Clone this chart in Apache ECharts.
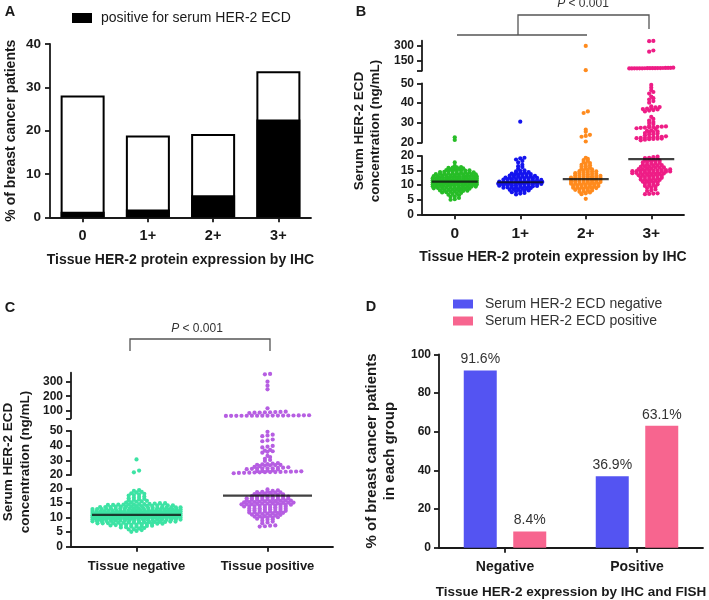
<!DOCTYPE html>
<html>
<head>
<meta charset="utf-8">
<title>Serum HER-2 ECD</title>
<script src="https://cdn.jsdelivr.net/npm/echarts@6/dist/echarts.min.js"></script>
<style>
html, body { margin: 0; padding: 0; background: #fff; }
#main { width: 709px; height: 600px; }
</style>
</head>
<body>
<div id="main"></div>
<script>
// ---------- data ----------
var ihcCats = ['0', '1+', '2+', '3+'];
var tissueCats = ['Tissue negative', 'Tissue positive'];
var fishCats = ['Negative', 'Positive'];

// A: % of patients per IHC score (whole bar) and serum positive part
var totalPct = [28.1, 18.9, 19.2, 33.7];
var serumPosPct = [1.3, 1.8, 5.1, 22.6];

// B: serum ECD (ng/mL) by IHC score
var ihc0 = [
  5.0, 5.2, 5.6, 6.0, 6.1, 6.5, 6.7, 7.0, 7.1, 7.3, 7.5, 7.6, 7.7, 7.9,
  8.0, 8.0, 8.1, 8.2, 8.3, 8.4, 8.5, 8.5, 8.6, 8.7, 8.8,
  8.9, 9.0, 9.0, 9.1, 9.1, 9.2, 9.3, 9.3, 9.4, 9.5, 9.5, 9.6, 9.6, 9.7, 9.7, 9.8, 9.9,
  9.9, 10.0, 10.0, 10.1, 10.1, 10.2, 10.2, 10.3, 10.3, 10.4, 10.4,
  10.5, 10.5, 10.5, 10.6, 10.6, 10.7, 10.7, 10.8, 10.8, 10.9, 10.9, 10.9,
  11.0, 11.0, 11.0, 11.1, 11.1, 11.2, 11.2, 11.3, 11.3, 11.4, 11.4, 11.4,
  11.5, 11.5, 11.6, 11.6, 11.7, 11.7, 11.8, 11.8, 11.9, 11.9, 12.0,
  12.0, 12.1, 12.1, 12.2, 12.2, 12.3, 12.3, 12.4, 12.4, 12.5, 12.5,
  12.6, 12.6, 12.7, 12.7, 12.8, 12.8, 12.9, 12.9, 13.0, 13.0,
  13.1, 13.1, 13.2, 13.3, 13.3, 13.4, 13.5, 13.5, 13.6,
  13.7, 13.7, 13.8, 13.9, 13.9, 14.0, 14.0, 14.1,
  14.2, 14.3, 14.4, 14.4, 14.5, 14.6, 14.7,
  14.8, 14.9, 15.0, 15.0, 15.1,
  15.2, 15.4, 15.5, 15.6, 15.8, 15.9, 16.0, 16.1, 16.2, 16.6, 17.8, 21.4, 22.7
];
var ihc1 = [
  6.8, 7.1, 7.3, 7.6, 7.8, 7.9, 8.1, 8.2, 8.4, 8.5, 8.6, 8.8,
  8.9, 9.0, 9.1, 9.2, 9.2, 9.3, 9.4, 9.5, 9.5, 9.6, 9.7, 9.8, 9.9,
  9.9, 10.0, 10.0, 10.1, 10.2, 10.2, 10.3, 10.4, 10.4,
  10.5, 10.5, 10.6, 10.6, 10.7, 10.7, 10.8, 10.8, 10.9, 10.9,
  11.0, 11.0, 11.1, 11.1, 11.2, 11.2, 11.3, 11.4, 11.4, 11.5,
  11.5, 11.6, 11.7, 11.7, 11.8, 11.9, 12.0, 12.0,
  12.1, 12.2, 12.3, 12.3, 12.4, 12.5, 12.6,
  12.7, 12.8, 12.9, 13.0, 13.0, 13.1,
  13.2, 13.3, 13.4, 13.5, 13.6, 13.7, 13.8, 14.0, 14.1,
  14.2, 14.4, 14.5, 14.7, 14.9, 15.1,
  15.6, 16.2, 16.5, 17.0, 17.8, 18.3, 18.8, 19.2, 19.4, 30.6
];
var ihc2 = [
  5.3, 6.9, 7.2, 7.5, 7.7, 7.9, 8.1, 8.2, 8.4, 8.5, 8.7, 8.8,
  8.9, 9.0, 9.1, 9.2, 9.3, 9.4, 9.5, 9.6, 9.7, 9.8,
  9.9, 10.0, 10.1, 10.2, 10.3, 10.4, 10.5, 10.6, 10.7, 10.8, 10.9, 10.9,
  11.0, 11.1, 11.2, 11.3, 11.4, 11.4, 11.5, 11.6, 11.7, 11.8, 11.9, 12.0,
  12.1, 12.2, 12.3, 12.4, 12.4, 12.5, 12.6, 12.7, 12.8, 12.9, 13.0, 13.0,
  13.1, 13.2, 13.4, 13.5, 13.6, 13.7, 13.8, 13.9, 14.1,
  14.2, 14.3, 14.5, 14.6, 14.7, 14.8, 15.0,
  15.2, 15.4, 15.6, 15.8, 16.0, 16.3, 16.5, 16.8, 17.0, 17.3, 17.6, 17.9, 18.3, 18.6, 19.0, 19.4,
  20.6, 23.0, 23.4, 24.0, 25.5, 26.6, 35.0, 35.8, 55, 298
];
var ihc3 = [
  6.9, 7.0, 7.1, 7.2, 8.0, 8.2, 8.5, 9.0, 9.2, 9.4, 9.7,
  10.0, 10.1, 10.3, 10.5, 10.7, 10.9, 11.0, 11.2, 11.3, 11.5, 11.6, 11.8, 11.9,
  12.0, 12.1, 12.3, 12.4, 12.5, 12.7, 12.8, 12.9,
  13.0, 13.1, 13.2, 13.4, 13.5, 13.6, 13.7, 13.8, 13.9,
  14.0, 14.1, 14.2, 14.2, 14.3, 14.4, 14.4, 14.5, 14.6, 14.6, 14.7, 14.8, 14.8, 14.9, 14.9, 15.0, 15.0,
  15.1, 15.2, 15.2, 15.4, 15.5, 15.5, 15.7, 15.8, 16.0, 16.0, 16.1, 16.3, 16.4, 16.4, 16.6,
  16.7, 16.9, 17.0, 17.1, 17.3, 17.5, 17.6, 17.8, 17.9, 18.1, 18.2, 18.4, 18.5, 18.7,
  18.9, 19.1, 19.3, 19.4, 19.6, 19.8,
  21.2, 21.5, 21.8, 21.9, 22.0, 22.1, 22.3, 22.4, 22.5, 22.6, 22.7, 22.9, 23.0, 23.2,
  23.8, 24.1, 24.3, 24.6, 24.9, 25.2, 25.4, 25.7, 26.0, 26.3,
  27.0, 27.3, 27.5, 27.6, 27.8, 27.9, 28.0, 28.1, 28.2, 28.5,
  29.5, 30.0, 30.4, 31.2, 32.0, 33.0,
  35.8, 36.2, 36.5, 36.8, 37.0, 37.2, 37.5, 37.8, 38.0, 38.4,
  40.2, 41.0, 41.8, 42.5, 43.3, 44.8, 45.6, 46.5, 47.8, 49.2,
  72.5, 73.0, 73.4, 73.8, 74.0, 74.2, 74.5, 74.8, 75.0, 75.3, 75.6, 76.0, 76.4, 76.9, 77.5, 78.2, 79.0, 80.5,
  240, 252, 345, 348
];
var medianB = [11.2, 11.0, 12.1, 18.9];

// C: serum ECD (ng/mL) by tissue status
var tissueNeg = [
  5.1, 5.4, 5.7, 5.9, 6.0, 6.2, 6.4, 6.6, 6.7, 6.9, 6.9,
  7.0, 7.1, 7.2, 7.3, 7.4, 7.4, 7.5, 7.5, 7.6, 7.7, 7.8, 7.8, 7.9, 7.9,
  8.0, 8.0, 8.1, 8.1, 8.2, 8.2, 8.3, 8.3, 8.4, 8.4, 8.4,
  8.5, 8.5, 8.5, 8.6, 8.6, 8.7, 8.7, 8.7, 8.8, 8.8, 8.9, 8.9, 8.9,
  9.0, 9.0, 9.0, 9.1, 9.1, 9.1, 9.2, 9.2, 9.2, 9.3, 9.3, 9.3, 9.4, 9.4, 9.4, 9.4,
  9.5, 9.5, 9.5, 9.5, 9.6, 9.6, 9.6, 9.7, 9.7, 9.7, 9.8, 9.8, 9.8, 9.8, 9.9, 9.9, 9.9, 9.9,
  10.0, 10.0, 10.0, 10.0, 10.1, 10.1, 10.1, 10.1, 10.2, 10.2, 10.2, 10.2, 10.3, 10.3, 10.3, 10.3, 10.4, 10.4, 10.4, 10.4,
  10.5, 10.5, 10.5, 10.5, 10.5, 10.6, 10.6, 10.6, 10.6, 10.7, 10.7, 10.7, 10.7, 10.8, 10.8, 10.8, 10.8, 10.9, 10.9, 10.9, 10.9,
  11.0, 11.0, 11.0, 11.0, 11.0, 11.1, 11.1, 11.1, 11.1, 11.2, 11.2, 11.2, 11.2, 11.3, 11.3, 11.3, 11.3, 11.4, 11.4, 11.4, 11.4,
  11.5, 11.5, 11.5, 11.5, 11.6, 11.6, 11.6, 11.6, 11.7, 11.7, 11.7, 11.7, 11.8, 11.8, 11.8, 11.8, 11.9, 11.9, 11.9, 11.9,
  12.0, 12.0, 12.0, 12.0, 12.1, 12.1, 12.1, 12.1, 12.2, 12.2, 12.2, 12.2, 12.3, 12.3, 12.3, 12.4, 12.4, 12.4,
  12.5, 12.5, 12.5, 12.5, 12.6, 12.6, 12.6, 12.7, 12.7, 12.7, 12.8, 12.8, 12.8, 12.9, 12.9, 12.9,
  13.0, 13.0, 13.0, 13.1, 13.1, 13.1, 13.2, 13.2, 13.2, 13.3, 13.3, 13.3, 13.4, 13.4,
  13.5, 13.5, 13.5, 13.6, 13.6, 13.6, 13.7, 13.7, 13.8, 13.8, 13.9, 13.9,
  14.0, 14.0, 14.1, 14.1, 14.2, 14.2, 14.3, 14.3, 14.4, 14.4,
  14.5, 14.5, 14.6, 14.6, 14.7, 14.8, 14.9, 14.9,
  15.1, 15.2, 15.4, 15.5, 15.7, 15.9, 16.0, 16.2, 16.4, 16.6, 16.8, 17.0, 17.2, 17.5, 17.7, 17.9, 18.1, 18.3, 18.6, 18.8, 19.1, 19.4,
  21.8, 23.0, 30.6
];
var tissuePos = [
  6.9, 7.0, 7.2, 7.3, 8.0, 8.3, 8.6, 8.9, 9.2, 9.4, 9.6, 9.8, 9.9,
  10.0, 10.1, 10.3, 10.4, 10.5, 10.6, 10.7, 10.9, 11.0, 11.1, 11.2, 11.3, 11.4, 11.5, 11.6, 11.7, 11.8, 11.9,
  12.0, 12.0, 12.1, 12.2, 12.3, 12.4, 12.5, 12.6, 12.7, 12.8, 12.9, 12.9,
  13.0, 13.1, 13.1, 13.2, 13.3, 13.4, 13.5, 13.6, 13.7, 13.8, 13.9, 13.9,
  14.0, 14.0, 14.1, 14.2, 14.3, 14.3, 14.4, 14.5, 14.6, 14.6, 14.7, 14.8, 14.8, 14.9, 14.9,
  15.0, 15.1, 15.1, 15.2, 15.3, 15.3, 15.4, 15.5, 15.5, 15.6, 15.7, 15.8, 15.8, 15.9, 16.0, 16.0, 16.1,
  16.2, 16.3, 16.3, 16.4, 16.5, 16.6, 16.6, 16.7, 16.8, 16.9, 16.9, 17.0, 17.1, 17.2, 17.3, 17.4,
  17.5, 17.6, 17.7, 17.8, 17.9, 18.0, 18.1, 18.2, 18.4, 18.5, 18.6, 18.7, 18.8, 18.9, 19.1, 19.3, 19.6,
  21.2, 21.4, 21.5, 21.6, 21.7, 21.8, 21.9, 22.0, 22.0, 22.1, 22.2, 22.3, 22.4, 22.5, 22.6, 22.7, 22.9, 23.1,
  23.8, 24.0, 24.2, 24.3, 24.4, 24.5, 24.6, 24.8, 25.0, 25.3, 25.6,
  26.0, 26.4, 26.6, 26.8, 26.9, 27.0, 27.2, 27.4, 27.7, 28.1,
  29.6, 30.3, 31.0, 32.2, 33.0, 35.2, 35.8, 36.2, 36.6, 37.1, 38.8, 39.3, 39.8,
  43.0, 43.6, 44.2, 46.5, 47.0, 47.5, 49.5,
  66.0, 66.5, 67.0, 67.2, 67.4, 67.6, 67.8, 68.0, 68.1, 68.3, 68.5, 68.7, 68.9, 69.2, 69.5, 70.0, 70.8,
  86.0, 88.0, 89.0, 90.0, 91.0, 92.0, 93.5, 95.0,
  118, 247, 272, 299, 349, 352
];
var medianC = [10.9, 17.5];

// D: % of patients in each tissue group
var serumNegD = [91.6, 36.9];
var serumPosD = [8.4, 63.1];

// ---------- layout ----------
var INK = '#1a1a1a';
var FONT = 'Liberation Sans';

// y segments of the broken axes (bottom, middle, top)
var segB = [
  {min: 0, max: 20, top: 156, height: 58.3},
  {min: 20, max: 50, top: 83.3, height: 59.4},
  {min: 50, max: 350, top: 40.7, height: 30}
];
var segC = [
  {min: 0, max: 20, top: 488.3, height: 58.4},
  {min: 20, max: 50, top: 431, height: 44},
  {min: 50, max: 360, top: 372.7, height: 45.6}
];
var gB = {left: 422, width: 262};
var gC = {left: 71, width: 262};

function segOf(v) { return v <= 20 ? 0 : (v <= 50 ? 1 : 2); }

// prism-like scatter: values close in height share a row, row spread around the category
function swarm(vals, idx, segs, bandPx, maxW, step, rowPx) {
  var s = vals.slice().sort(function (a, b) { return a - b; });
  var out = [[], [], []];
  var i = 0;
  while (i < s.length) {
    var k = segOf(s[i]);
    var g = segs[k];
    var ppu = g.height / (g.max - g.min);
    var row = [s[i]];
    var j = i + 1;
    while (j < s.length && segOf(s[j]) === k && (s[j] - s[i]) * ppu < rowPx) {
      row.push(s[j]);
      j++;
    }
    var gap = row.length > 1 ? Math.min(step, maxW / (row.length - 1)) : 0;
    for (var m = 0; m < row.length; m++) {
      var dx = (m - (row.length - 1) / 2) * gap;
      out[k].push([idx + dx / bandPx, row[m]]);
    }
    i = j;
  }
  return out;
}

function styledAxis(o, labelSize) {
  var a = {
    axisLine: {show: true, onZero: false, lineStyle: {color: INK, width: 1.8}},
    axisTick: {show: true, length: 5, lineStyle: {color: INK, width: 1.8}},
    axisLabel: {color: INK, fontSize: labelSize, fontWeight: 'bold', fontFamily: FONT, margin: 8},
    splitLine: {show: false},
    nameTextStyle: {color: INK, fontSize: 14, fontWeight: 'bold', fontFamily: FONT},
    nameMoveOverlap: false
  };
  for (var k in o) {
    if (o[k] && typeof o[k] === 'object' && !Array.isArray(o[k]) && a[k]) {
      for (var kk in o[k]) a[k][kk] = o[k][kk];
    } else {
      a[k] = o[k];
    }
  }
  return a;
}

var grids = [
  {left: 50, top: 44, width: 261, height: 173.3}
];
segB.forEach(function (s) { grids.push({left: gB.left, width: gB.width, top: s.top, height: s.height}); });
segC.forEach(function (s) { grids.push({left: gC.left, width: gC.width, top: s.top, height: s.height}); });
grids.push({left: 439, top: 354.3, width: 264, height: 193.4});
grids.forEach(function (g) { g.outerBoundsMode = 'none'; });

var xAxes = [
  styledAxis({
    gridIndex: 0, type: 'category', data: ihcCats,
    axisTick: {alignWithLabel: true},
    axisLabel: {fontSize: 14.5, margin: 11},
    name: 'Tissue HER-2 protein expression by IHC', nameLocation: 'middle', nameGap: 36
  }, 14.5),
  styledAxis({
    gridIndex: 1, type: 'value', min: -0.5, max: 3.5,
    axisTick: {customValues: [0, 1, 2, 3]},
    axisLabel: {customValues: [0, 1, 2, 3], margin: 11, formatter: function (v) { return ihcCats[v]; }},
    name: 'Tissue HER-2 protein expression by IHC', nameLocation: 'middle', nameGap: 36
  }, 15.5),
  {gridIndex: 2, type: 'value', min: -0.5, max: 3.5, show: false},
  {gridIndex: 3, type: 'value', min: -0.5, max: 3.5, show: false},
  styledAxis({
    gridIndex: 4, type: 'value', min: -0.5, max: 1.5,
    axisTick: {customValues: [0, 1]},
    axisLabel: {customValues: [0, 1], margin: 13, formatter: function (v) { return tissueCats[v]; }}
  }, 13),
  {gridIndex: 5, type: 'value', min: -0.5, max: 1.5, show: false},
  {gridIndex: 6, type: 'value', min: -0.5, max: 1.5, show: false},
  styledAxis({
    gridIndex: 7, type: 'category', data: fishCats,
    axisTick: {alignWithLabel: true},
    axisLabel: {margin: 12},
    name: 'Tissue HER-2 expression by IHC and FISH', nameLocation: 'middle', nameGap: 38,
    nameTextStyle: {fontSize: 13.5}
  }, 14)
];

var yAxes = [
  styledAxis({
    gridIndex: 0, type: 'value', min: 0, max: 40, interval: 10,
    axisLabel: {margin: 9},
    name: '% of breast cancer patients', nameLocation: 'middle', nameGap: 32
  }, 13.5),
  styledAxis({gridIndex: 1, type: 'value', min: 0, max: 20, interval: 5}, 12),
  styledAxis({gridIndex: 2, type: 'value', min: 20, max: 50, interval: 10}, 12),
  styledAxis({
    gridIndex: 3, type: 'value', min: 50, max: 350,
    axisTick: {customValues: [50, 150, 300]},
    axisLabel: {customValues: [150, 300]}
  }, 12),
  styledAxis({gridIndex: 4, type: 'value', min: 0, max: 20, interval: 5}, 12),
  styledAxis({gridIndex: 5, type: 'value', min: 20, max: 50, interval: 10}, 12),
  styledAxis({
    gridIndex: 6, type: 'value', min: 50, max: 360,
    axisTick: {customValues: [50, 100, 200, 300]},
    axisLabel: {customValues: [100, 200, 300]}
  }, 12),
  styledAxis({
    gridIndex: 7, type: 'value', min: 0, max: 100, interval: 20,
    name: '% of breast cancer patients\nin each group', nameLocation: 'middle', nameGap: 40,
    nameTextStyle: {fontSize: 15, lineHeight: 18}
  }, 12)
];

// ---------- series ----------
var series = [];

//A 柱状图
series.push({
  name: 'all patients', type: 'bar', xAxisIndex: 0, yAxisIndex: 0,
  data: totalPct, barWidth: 44, barGap: '-100%',
  itemStyle: {color: '#fff', borderColor: '#000', borderWidth: 2}, silent: true
});
series.push({
  name: 'positive for serum HER-2 ECD', type: 'bar', xAxisIndex: 0, yAxisIndex: 0,
  data: serumPosPct, barWidth: 44, barGap: '-100%',
  itemStyle: {color: '#000'}, silent: true
});

//B 散点
var colorsB = ['#27bd27', '#1414ee', '#ff8b1e', '#ee1d86'];
[ihc0, ihc1, ihc2, ihc3].forEach(function (vals, i) {
  var parts = swarm(vals, i, segB, gB.width / 4, 44, 4.2, 2);
  parts.forEach(function (pts, k) {
    series.push({
      type: 'scatter', xAxisIndex: 1 + k, yAxisIndex: 1 + k, data: pts,
      symbolSize: 4.2, itemStyle: {color: colorsB[i], opacity: 1}, silent: true, clip: false
    });
  });
});
series.push({
  type: 'scatter', xAxisIndex: 1, yAxisIndex: 1, z: 5,
  data: medianB.map(function (m, i) { return [i, m]; }),
  symbol: 'rect', symbolSize: [46, 2.2], itemStyle: {color: '#111'}, silent: true
});

//C 散点
var colorsC = ['#3de3a4', '#b65ee2'];
[tissueNeg, tissuePos].forEach(function (vals, i) {
  var parts = swarm(vals, i, segC, gC.width / 2, 88, 5.2, 2);
  parts.forEach(function (pts, k) {
    series.push({
      type: 'scatter', xAxisIndex: 4 + k, yAxisIndex: 4 + k, data: pts,
      symbolSize: 4.2, itemStyle: {color: colorsC[i], opacity: 1}, silent: true, clip: false
    });
  });
});
series.push({
  type: 'scatter', xAxisIndex: 4, yAxisIndex: 4, z: 5,
  data: medianC.map(function (m, i) { return [i, m]; }),
  symbol: 'rect', symbolSize: [89, 2.2], itemStyle: {color: '#111'}, silent: true
});

//D 柱状图
var barLabel = {show: true, position: 'top', distance: 4, formatter: '{c}%', fontSize: 14, color: '#333', fontFamily: FONT};
series.push({
  name: 'Serum HER-2 ECD negative', type: 'bar', xAxisIndex: 7, yAxisIndex: 7,
  data: serumNegD, barWidth: 33, barGap: '50%', itemStyle: {color: '#5454f2'}, label: barLabel, silent: true
});
series.push({
  name: 'Serum HER-2 ECD positive', type: 'bar', xAxisIndex: 7, yAxisIndex: 7,
  data: serumPosD, barWidth: 33, barGap: '50%', itemStyle: {color: '#f7658f'}, label: barLabel, silent: true
});

// ---------- texts / brackets ----------
function txt(s, x, y, size, weight, extra) {
  var st = {
    text: s, fontSize: size, fontWeight: weight, fontFamily: FONT, fill: INK,
    align: 'center', verticalAlign: 'middle', textAlign: 'center', textVerticalAlign: 'middle'
  };
  for (var k in extra) st[k] = extra[k];
  return {type: 'text', x: x, y: y, style: st, silent: true};
}
var pRich = {i: {fontStyle: 'italic', fontSize: 12, fontFamily: FONT, fill: '#333'}};
var brk = {stroke: '#555', lineWidth: 1.3, fill: null};

var graphics = [
  txt('A', 10, 12, 14.5, 'bold'),
  txt('B', 361, 12, 14.5, 'bold'),
  txt('C', 10, 308, 14.5, 'bold'),
  txt('D', 371, 307, 14.5, 'bold'),
  {type: 'polyline', shape: {points: [[457, 35], [587, 35]]}, style: brk, silent: true},
  {type: 'polyline', shape: {points: [[518, 35], [518, 15], [649, 15], [649, 29]]}, style: brk, silent: true},
  {type: 'polyline', shape: {points: [[130, 351], [130, 339], [270, 339], [270, 351]]}, style: brk, silent: true},
  txt('{i|P} < 0.001', 583, 4, 12, 'normal', {rich: pRich, fill: '#333'}),
  txt('{i|P} < 0.001', 197, 329, 12, 'normal', {rich: pRich, fill: '#333'})
];
var yTitleB = txt('Serum HER-2 ECD\nconcentration (ng/mL)', 367.5, 131, 13.5, 'bold', {lineHeight: 16.5});
yTitleB.rotation = Math.PI / 2;
var yTitleC = txt('Serum HER-2 ECD\nconcentration (ng/mL)', 17, 462, 13.5, 'bold', {lineHeight: 16.5});
yTitleC.rotation = Math.PI / 2;
graphics.push(yTitleB, yTitleC);

var chart = echarts.init(document.getElementById('main'));
chart.setOption({
  animation: false,
  backgroundColor: '#fff',
  textStyle: {fontFamily: FONT},
  legend: [
    {
      data: ['positive for serum HER-2 ECD'], left: 72, top: 11, padding: 0,
      itemWidth: 20, itemHeight: 10, icon: 'rect', selectedMode: false,
      textStyle: {fontSize: 14, color: INK, fontFamily: FONT, padding: [0, 0, 0, 4]}
    },
    {
      data: ['Serum HER-2 ECD negative', 'Serum HER-2 ECD positive'], orient: 'vertical',
      left: 453, top: 297, padding: 0, itemGap: 3, itemWidth: 20, itemHeight: 9, icon: 'rect', selectedMode: false,
      textStyle: {fontSize: 14, color: '#333', fontFamily: FONT, padding: [0, 0, 0, 7]}
    }
  ],
  grid: grids,
  xAxis: xAxes,
  yAxis: yAxes,
  series: series,
  graphic: graphics
});
</script>
</body>
</html>
